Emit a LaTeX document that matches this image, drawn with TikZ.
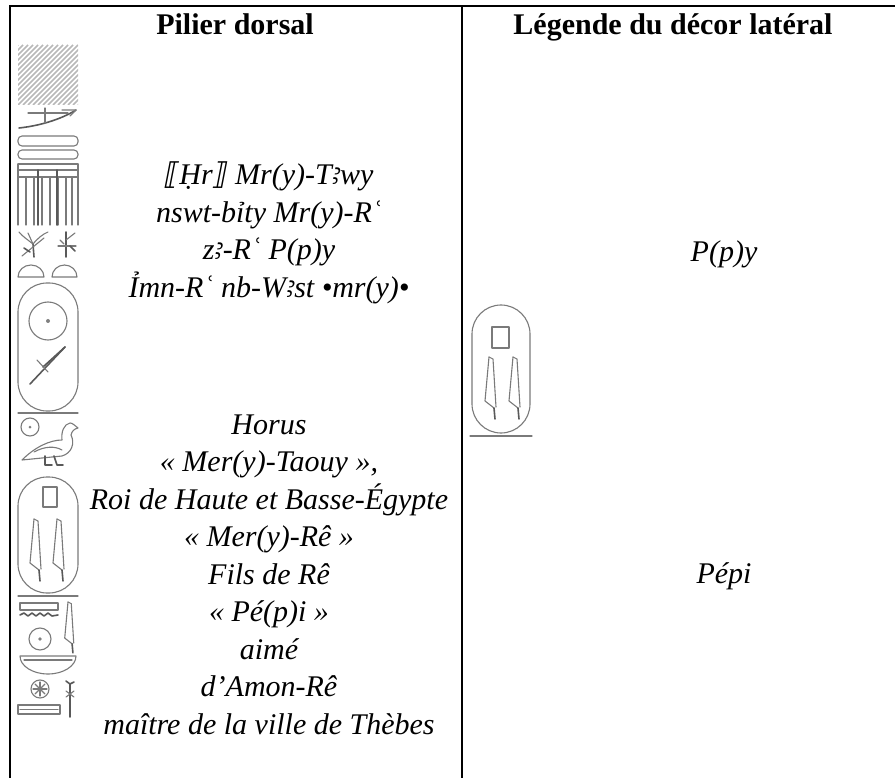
\documentclass[tikz,border=0pt]{standalone}
\usepackage{fontspec}
\setmainfont{Liberation Serif}
\newfontfamily\dvsans{DejaVu Sans}
\newfontfamily\alefont{Noto Sans}
\newcommand{\alef}{{\alefont\fontsize{28}{37.5}\selectfont ꜣ}}
\begin{document}
\begin{tikzpicture}[x=1pt,y=-1pt,
  hg/.style={draw=black!52, line width=1.1pt, line cap=round, line join=round},
  hgd/.style={draw=black!65, line width=1.6pt, line cap=round, line join=round},
  hatch/.style={draw=black!28, line width=1.6pt},
  rule/.style={draw=black, line width=2.5pt},
  txt/.style={font=\fontsize{30}{37.5}\selectfont\itshape, anchor=base, inner sep=0pt},
  hdr/.style={font=\fontsize{30}{37.5}\selectfont\bfseries, anchor=base, inner sep=0pt},
  reed/.pic={
    \draw[hg] (0,0) -- (-4,44) -- (5,51);
    \draw[hgd] (5,51) -- (6,62);
    \draw[hg] (0,0) -- (4,2) -- (7,50);
  }]
\useasboundingbox (0,0) rectangle (895,778);
% table rules
\draw[rule, line join=miter] (10,778) -- (10,6) -- (895,6);
\draw[rule] (462,6) -- (462,778);
% headers
\node[hdr] (h1) at (235,35) {Pilier dorsal};
\node[hdr] (h2) at (673,35) {Légende du décor latéral};
% transliteration
\node[txt] (t1) at (269,185) {{\dvsans ⟦}Ḥr{\dvsans ⟧} Mr(y)-T\alef wy};
\node[txt] (t2) at (269,222.5) {nswt-bỉty Mr(y)-Rʿ};
\node[txt] (t3) at (269,260) {z\alef-Rʿ P(p)y};
\node[txt] (t4) at (269,297.5) {Ỉmn-Rʿ nb-W\alef st •mr(y)•};
% translation
\node[txt] (f1) at (269,434) {Horus};
\node[txt] (f2) at (269,471.5) {«~Mer(y)-Taouy~»,};
\node[txt] (f3) at (269,509) {Roi de Haute et Basse-Égypte};
\node[txt] (f4) at (269,546.5) {«~Mer(y)-Rê~»};
\node[txt] (f5) at (269,584) {Fils de Rê};
\node[txt] (f6) at (269,621.5) {«~Pé(p)i~»};
\node[txt] (f7) at (269,659) {aimé};
\node[txt] (f8) at (269,696.5) {d’Amon-Rê};
\node[txt] (f9) at (269,734) {maître de la ville de Thèbes};
% right column
\node[txt] (r1) at (724,262) {P(p)y};
\node[txt] (r2) at (724,583) {Pépi};
% ---------- hieroglyph strip ----------
\begin{scope}
  \clip (18,45) rectangle (78,105);
  \foreach \i in {-60,-55,...,60} \draw[hatch] (18+\i,105) -- ++(60,-60);
\end{scope}
% hoe mr
\draw[hgd] (19,128) .. controls (38,126) and (60,120) .. (76,110);
\draw[hg] (28,113) -- (68,113);
\draw[hg] (45,108) -- (45,123);
\draw[hg] (62,110) -- (76,110) -- (70,116);
% two land bars
\draw[hg, rounded corners=4pt] (18,136) rectangle (78,146);
\draw[hg, rounded corners=4pt] (18,150) rectangle (78,159);
% comb sign
\foreach \yy in {164,170,177} \draw[hg] (18,\yy) -- (78,\yy);
\draw[hg] (18,164) -- (18,225);
\draw[hg] (78,164) -- (78,225);
\foreach \xx in {26,34,42,50,58,66,72} \draw[hg] (\xx,177) -- (\xx,225);
\draw[hgd] (38,170) -- (38,225);
\draw[hgd] (57,170) -- (57,225);
% sedge
\draw[hgd] (34,257) -- (33,244);
\draw[hg] (33,244) .. controls (28,240) and (22,236) .. (19,232);
\draw[hg] (33,244) .. controls (38,238) and (43,234) .. (48,232);
\draw[hg] (33,244) -- (28,233);
\draw[hg] (22,256) -- (44,238);
\draw[hgd] (24,248) -- (30,252);
% bee
\draw[hgd] (66,232) -- (66,257);
\draw[hg] (58,246) -- (76,246);
\draw[hg] (66,240) -- (75,233);
\draw[hg] (60,240) -- (64,244);
\draw[hgd] (70,246) -- (75,251);
% bread loaves
\draw[hg] (18,277) arc (180:0:13pt and 12pt) -- cycle;
\draw[hg] (52,277) arc (180:0:12.5pt and 12pt) -- cycle;
% cartouche 1
\draw[hg, rounded corners=29pt] (18,283) rectangle (78,411);
\draw[hg] (18,413) -- (78,413);
\draw[hg] (48,321) circle (19pt);
\fill[black!50] (48,321) circle (2pt);
\draw[hgd] (30,384) -- (65,347);
\draw[hgd] (43,367) -- (65,347);
\draw[hg] (37,360) -- (48,372);
% sun and duck
\draw[hg] (30,427) circle (9pt);
\fill[black!50] (30,427) circle (1.5pt);
\draw[hg] (22,460) .. controls (35,447) and (50,440) .. (62,440)
  .. controls (61,432) and (64,424) .. (70,423)
  .. controls (73,423) and (75,426) .. (78,428)
  .. controls (74,429) and (72,431) .. (71,435)
  .. controls (75,443) and (72,453) .. (62,456) -- cycle;
\draw[hg] (34,452) .. controls (45,446) and (55,446) .. (62,450);
\draw[hgd] (45,456) -- (45,465) -- (52,465);
\draw[hgd] (54,456) -- (57,465) -- (63,465);
% cartouche 2
\draw[hg, rounded corners=29pt] (18,477) rectangle (78,593);
\draw[hg] (18,596) -- (78,596);
\draw[hg] (43,487) rectangle (57,507);
\pic at (34,519) {reed};
\pic at (57,519) {reed};
% Imn sign and reed
\draw[hg] (20,603) rectangle (58,610);
\draw[hgd] (20,615) -- (24,613) -- (28,616) -- (32,613) -- (36,616) -- (40,613) -- (44,616) -- (48,613) -- (52,616) -- (58,615);
\pic[scale=0.82] at (68,602) {reed};
\draw[hg] (40,639) circle (11pt);
\fill[black!50] (40,639) circle (1.8pt);
% basket nb
\draw[hg] (20,656) -- (76,656) arc (0:-180:28pt and 18pt);
\draw[hg] (24,660) -- (72,660);
% city sign and was
\draw[hg] (40,689) circle (9pt);
\draw[hg] (33,689) -- (47,689);
\draw[hg] (40,682) -- (40,696);
\draw[hg] (35,684) -- (45,694);
\draw[hg] (45,684) -- (35,694);
\draw[hgd] (70,684) -- (70,717);
\draw[hgd] (66,681) -- (70,684) -- (74,682);
\draw[hg] (66,691) -- (74,697);
\draw[hg] (74,691) -- (66,697);
\draw[hg] (18,705) rectangle (60,714);
\draw[hg] (20,709.5) -- (58,709.5);
% ---------- right cartouche ----------
\draw[hg, rounded corners=29pt] (472,305) rectangle (530,433);
\draw[hg] (470,436) -- (532,436);
\draw[hg] (492,327) rectangle (509,348);
\pic at (489,357) {reed};
\pic at (513,357) {reed};
\end{tikzpicture}
\end{document}
